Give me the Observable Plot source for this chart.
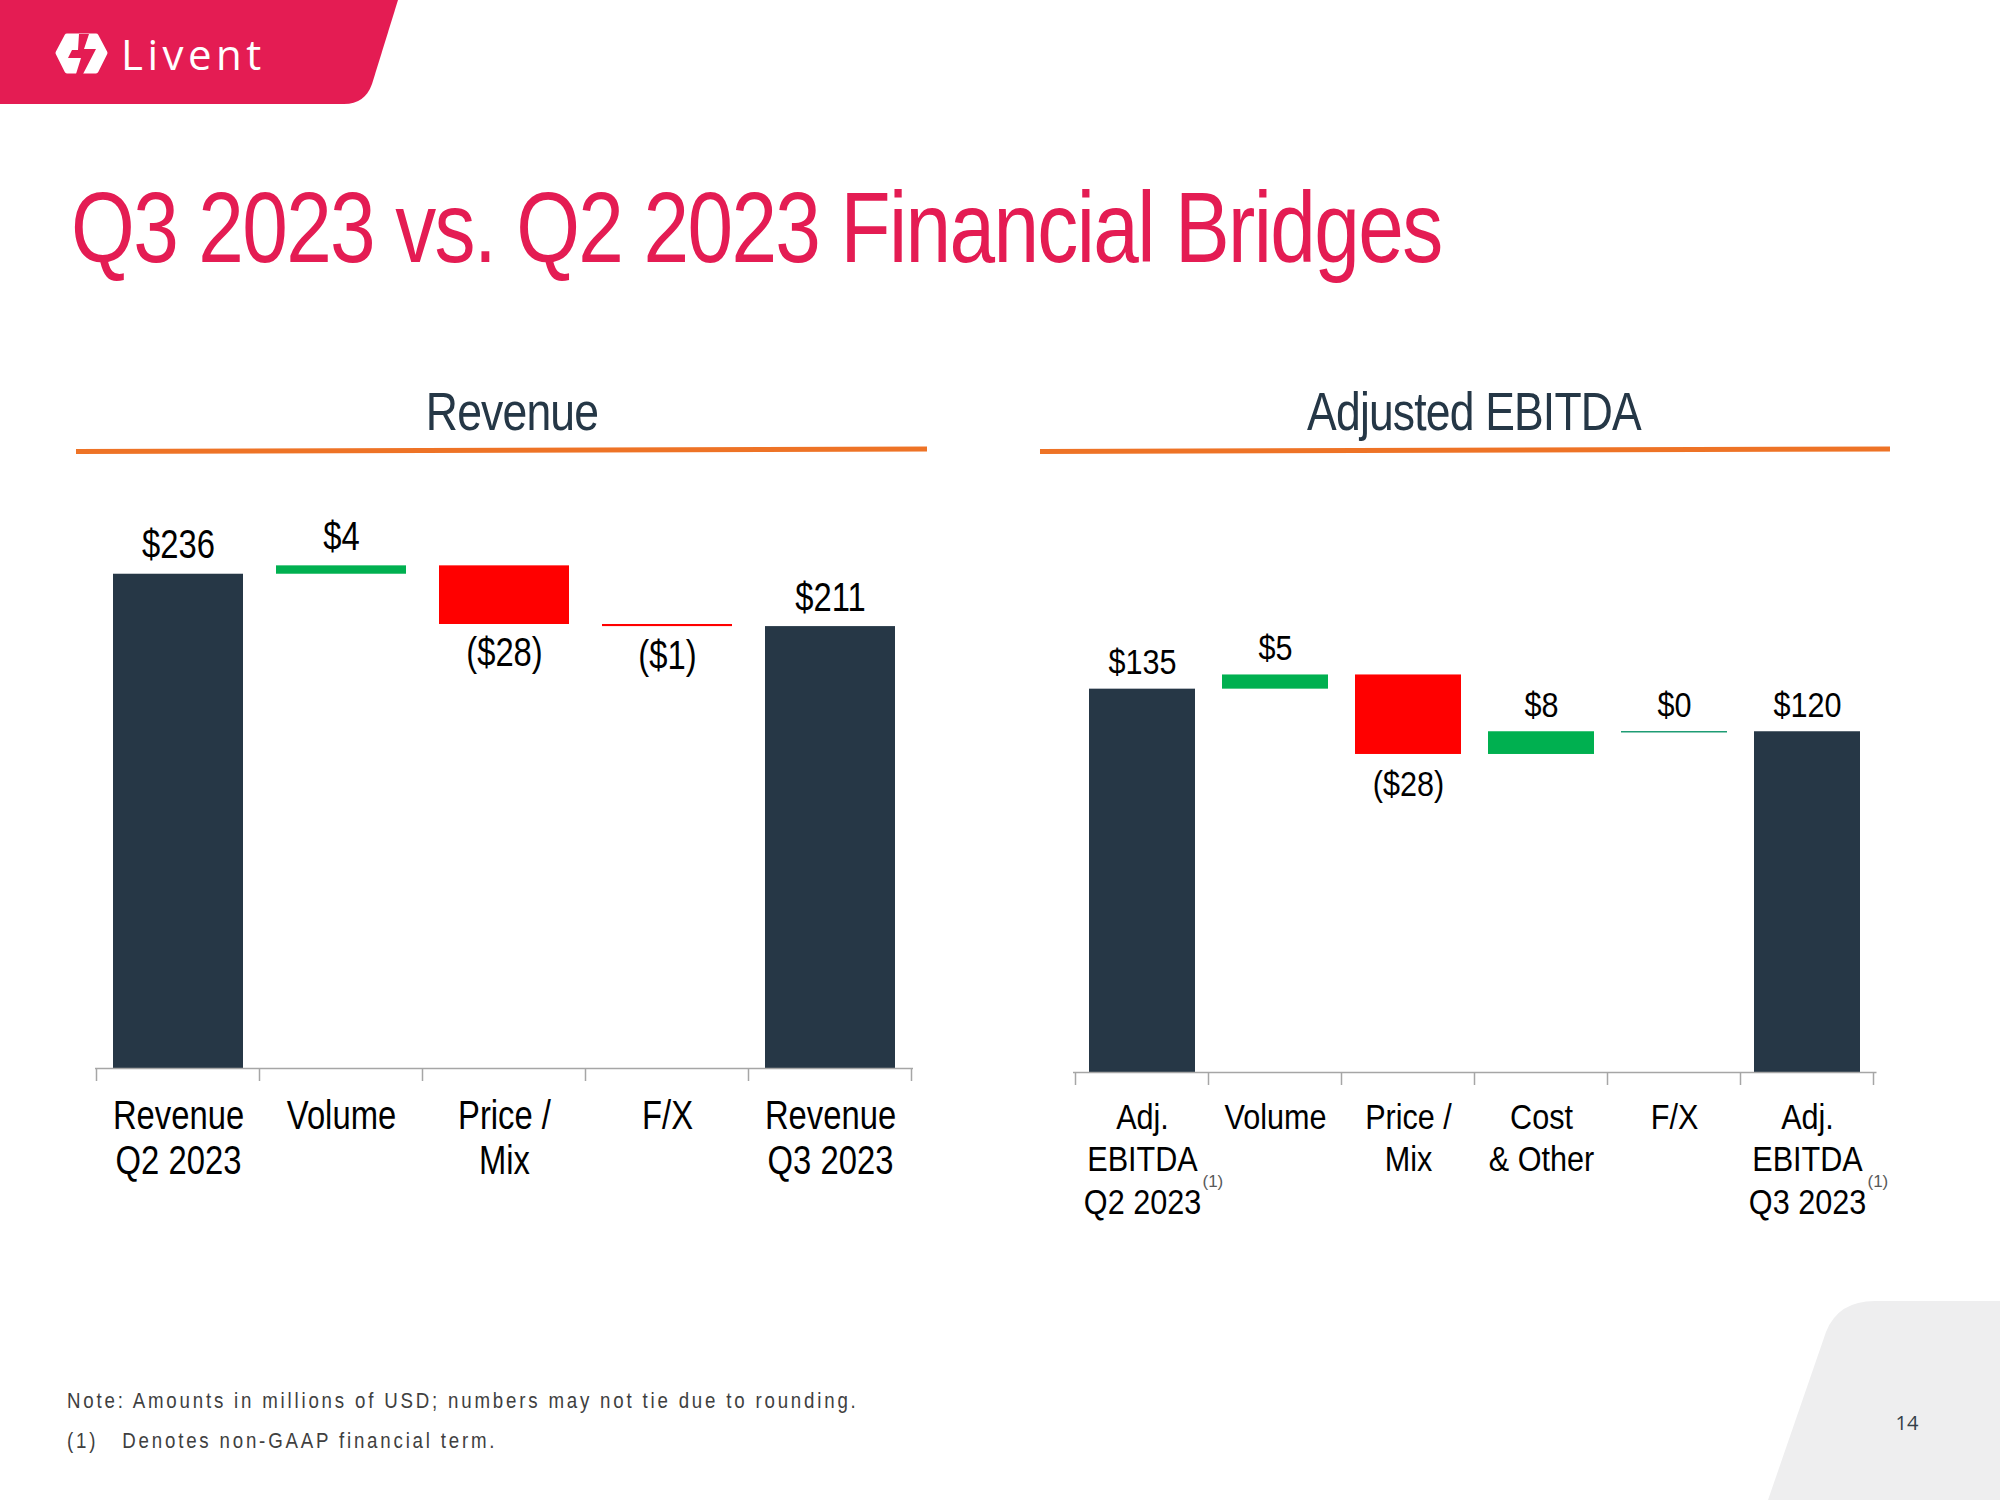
<!DOCTYPE html>
<html>
<head>
<meta charset="utf-8">
<script src="https://cdn.jsdelivr.net/npm/d3@7"></script>
<script src="https://cdn.jsdelivr.net/npm/@observablehq/plot@0.6"></script>
<style>
html, body { margin: 0; padding: 0; background: #fff; }
#page { position: relative; width: 2000px; height: 1500px; overflow: hidden; background: #fff; }
#bg { position: absolute; left: 0; top: 0; }
.chart { position: absolute; }
.chart svg { overflow: visible; }
</style>
</head>
<body>
<div id="page">
  <svg id="bg" width="2000" height="1500"></svg>
  <div class="chart" id="rev"></div>
  <div class="chart" id="ebitda"></div>
</div>
<script>
// ---------------- DATA ----------------
const revCategories = ["Revenue\nQ2 2023", "Volume", "Price /\nMix", "F/X", "Revenue\nQ3 2023"];
const revValues = [236, 4, -28, -1, 211];
const revKinds = ["total", "delta", "delta", "delta", "total"];
const revNotes = ["", "", "", "", ""];

const ebitdaCategories = ["Adj.\nEBITDA\nQ2 2023", "Volume", "Price /\nMix", "Cost\n& Other", "F/X", "Adj.\nEBITDA\nQ3 2023"];
const ebitdaValues = [135, 5, -28, 8, 0, 120];
const ebitdaKinds = ["total", "delta", "delta", "delta", "delta", "total"];
const ebitdaNotes = ["(1)", "", "", "", "", "(1)"];

const pageTitle = "Q3 2023 vs. Q2 2023 Financial Bridges";
const chartTitles = ["Revenue", "Adjusted EBITDA"];
const footNotes = ["Note: Amounts in millions of USD; numbers may not tie due to rounding.", "(1)\u00a0\u00a0\u00a0Denotes non-GAAP financial term."];
const pageNumber = "14";

// ---------------- FONTS ----------------
const BASE = '"Liberation Sans", Arial, sans-serif';

const C = {
  total: "#263746", up: "#00B050", down: "#FF0000", zero: "#1E9C74",
  pink: "#E41C53", navy: "#253746", orange: "#EE7326", axis: "#A6A6A6"
};

// ---------------- BACKGROUND ----------------
const bg = d3.select("#bg");
bg.append("path").attr("d", "M0,0 H398 L372,84 Q365,104 344,104 H0 Z").attr("fill", C.pink);
// logo icon
bg.append("path").attr("d", "M58,53 L67,36 H96 L105,53 L96,71 H67 Z")
  .attr("fill", "#fff").attr("stroke", "#fff").attr("stroke-width", 5).attr("stroke-linejoin", "round");
bg.append("path").attr("d", "M79,34 H89 L84,49 H96 L83,74 H76 L81,58 H68 L72,50 H78 Z").attr("fill", C.pink);
bg.append("text").attr("x", 121).attr("y", 70).attr("fill", "#fff")
  .style("font-family", '"Open Sans", sans-serif').style("font-size", "42px").style("font-weight", "500")
  .style("letter-spacing", "4.5px").text("Livent");

function ctext(x, y, s, txt) {
  return bg.append("text").attr("transform", `translate(${x},${y}) scale(${s},1)`).text(txt);
}

// title
ctext(71, 262, 0.82, pageTitle).attr("fill", C.pink)
  .style("font-family", BASE).style("font-size", "100px").style("letter-spacing", "-2px");

// chart titles and orange rules
const titleX = [512, 1474];
chartTitles.forEach((t, i) => {
  ctext(titleX[i], 430, 0.84, t).attr("text-anchor", "middle").attr("fill", C.navy)
    .style("font-family", BASE).style("font-size", "53px").style("letter-spacing", "-1px");
});
[[76, 927], [1040, 1890]].forEach(([a, b]) => {
  bg.append("line").attr("x1", a).attr("x2", b).attr("y1", 451.5).attr("y2", 449)
    .attr("stroke", C.orange).attr("stroke-width", 5);
});

// footnotes
footNotes.forEach((t, i) => {
  ctext(67, 1408 + i * 40, 0.85, t).attr("fill", "#404040")
    .style("font-family", BASE).style("font-size", "22px").style("letter-spacing", "3.3px");
});

// page corner
bg.append("path").attr("d", "M1768,1500 L1826,1332 Q1838,1301 1875,1301 H2000 V1500 Z").attr("fill", "#EEEEEF");
bg.append("text").attr("x", 1907).attr("y", 1430).attr("text-anchor", "middle").attr("fill", "#333F48")
  .style("font-family", '"Open Sans", sans-serif').style("font-size", "20px").text(pageNumber);

// ---------------- CHARTS ----------------
function bridge(cats, vals, kinds, notes) {
  let run = 0;
  return cats.map((c, i) => {
    const v = vals[i], k = kinds[i];
    let y1, y2;
    if (k === "total") { y1 = 0; y2 = v; run = v; }
    else { y1 = run; y2 = run + v; run += v; }
    return { cat: c, value: v, kind: k, y1, y2, top: Math.max(y1, y2), bottom: Math.min(y1, y2), note: notes[i] };
  });
}
const fmt = v => v < 0 ? `($${-v})` : `$${v}`;
const colorOf = d => d.kind === "total" ? C.total : d.value > 0 ? C.up : C.down;

function boundaryTicks(len) {
  return (index, scales, values, dims) => {
    const x = scales.x, y = scales.y;
    const dom = x.domain();
    const n = dom.length;
    const inner = dims.width - dims.marginLeft - dims.marginRight;
    const bw = typeof x.bandwidth === "function" ? x.bandwidth() : inner / n * 0.8;
    const st = typeof x.step === "function" ? x.step() : inner / n;
    const gap = (st - bw) / 2;
    const edges = dom.map(d => x(d) - gap).concat([x(dom[n - 1]) + bw + gap]);
    const y0 = y(0);
    const g = d3.create("svg:g");
    g.selectAll("line").data(edges).join("line")
      .attr("x1", e => e).attr("x2", e => e).attr("y1", y0).attr("y2", y0 + len)
      .attr("stroke", C.axis).attr("stroke-width", 1.5);
    return g.node();
  };
}

function bridgeChart(data, o) {
  const svg = Plot.plot({
    width: o.width, height: o.plotH + o.marginBottom,
    marginLeft: 0, marginRight: 0, marginTop: 0, marginBottom: o.marginBottom,
    style: { background: "transparent", fontFamily: BASE, overflow: "visible" },
    x: { domain: data.map(d => d.cat), paddingInner: 0.2, paddingOuter: 0.1, axis: null },
    y: { domain: [0, o.yMax], axis: null },
    color: { type: "identity" },
    marks: [
      Plot.barY(data.filter(d => d.kind === "total" || d.value !== 0), { x: "cat", y1: "y1", y2: "y2", fill: colorOf }),
      Plot.tickY(data.filter(d => d.kind !== "total" && d.value === 0), { x: "cat", y: "y2", stroke: C.zero, strokeWidth: 1.5 }),
      Plot.ruleY([0], { stroke: C.axis, strokeWidth: 1.5 }),
      boundaryTicks(13),
      Plot.text(data.filter(d => d.value >= 0), { x: "cat", y: "top", text: d => fmt(d.value), dy: o.posDy, lineAnchor: "bottom", fontSize: o.fs, fill: "#000" }),
      Plot.text(data.filter(d => d.value < 0), { x: "cat", y: "bottom", text: d => fmt(d.value), dy: o.negDy, lineAnchor: "bottom", fontSize: o.fs, fill: "#000" }),
      Plot.text(data, { x: "cat", y: 0, text: "cat", lineAnchor: "top", dy: o.catDy, lineHeight: o.lh, fontSize: o.fs, fill: "#000" }),
      Plot.text(data.filter(d => d.note), { x: "cat", y: 0, text: "note", textAnchor: "start", dx: 60, dy: 114, lineAnchor: "bottom", fontSize: 17, fill: "#595959" })
    ]
  });
  // condense the large labels horizontally (narrow face look), keep the small notes as is
  d3.select(svg).selectAll("text").each(function () {
    const g = this.closest("g[font-size]");
    const fsz = g ? +g.getAttribute("font-size") : 0;
    if (fsz === 17) return;
    const t = this.getAttribute("transform") || "";
    this.setAttribute("transform", `${t} scale(${o.squeeze},1)`);
  });
  return svg;
}

const revData = bridge(revCategories, revValues, revKinds, revNotes);
const ebData = bridge(ebitdaCategories, ebitdaValues, ebitdaKinds, ebitdaNotes);

const revEl = document.getElementById("rev");
revEl.style.left = "95.4px"; revEl.style.top = "380px";
revEl.appendChild(bridgeChart(revData, { width: 818, plotH: 688, marginBottom: 130, yMax: 328.5, fs: 40, lh: 1.125, catDy: 29, posDy: -16, negDy: 42, squeeze: 0.82 }));

const ebEl = document.getElementById("ebitda");
ebEl.style.left = "1072.5px"; ebEl.style.top = "380px";
ebEl.appendChild(bridgeChart(ebData, { width: 803.5, plotH: 692, marginBottom: 160, yMax: 243.7, fs: 36, lh: 1.19, catDy: 25.6, posDy: -15, negDy: 42, squeeze: 0.85 }));
</script>
</body>
</html>
